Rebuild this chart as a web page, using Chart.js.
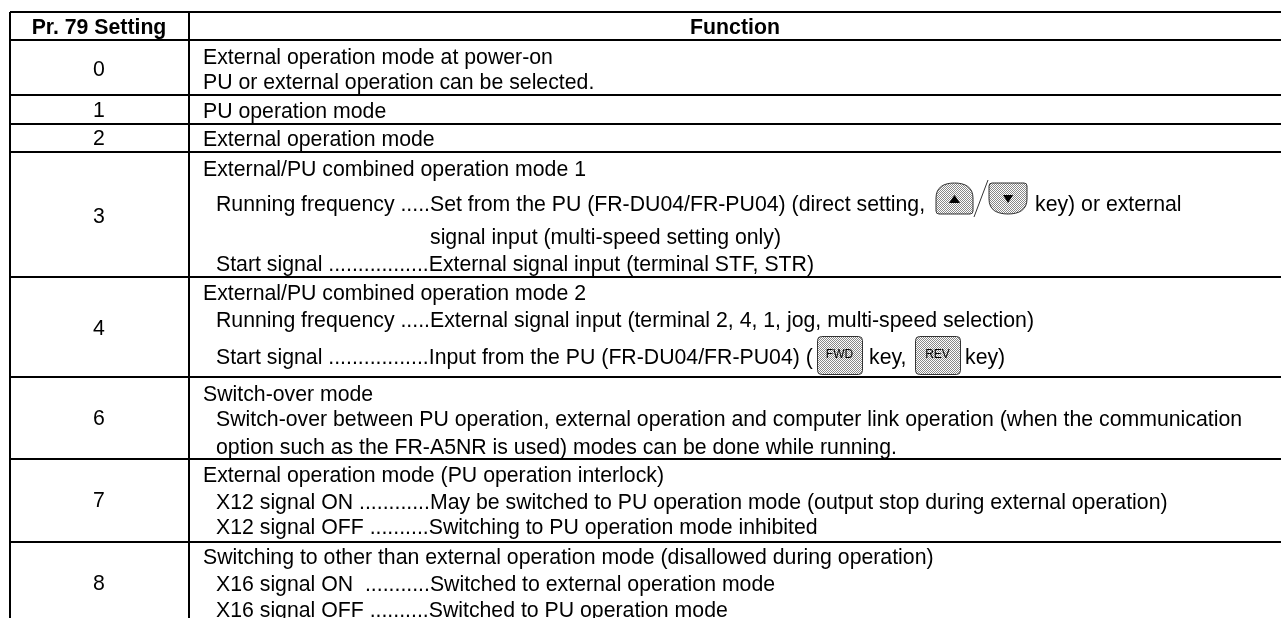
<!DOCTYPE html>
<html>
<head>
<meta charset="utf-8">
<style>
html, body { margin: 0; padding: 0; background: #fff; overflow: hidden; }
#wrap { position: relative; width: 1281px; height: 618px; }
</style>
<script src="https://cdn.jsdelivr.net/npm/chart.js@4.4.0/dist/chart.umd.min.js"></script>
</head>
<body>
<div id="wrap"><canvas id="table"></canvas></div>
<script>
// Table content
const headers = ['Pr. 79 Setting', 'Function'];
const settings = ['0', '1', '2', '3', '4', '6', '7', '8'];
const functionLines = [
    'External operation mode at power-on',
    'PU or external operation can be selected.',
    'PU operation mode',
    'External operation mode',
    'External/PU combined operation mode 1',
    'Running frequency .....Set from the PU (FR-DU04/FR-PU04) (direct setting,',
    'key) or external',
    'signal input (multi-speed setting only)',
    'Start signal .................External signal input (terminal STF, STR)',
    'External/PU combined operation mode 2',
    'Running frequency .....External signal input (terminal 2, 4, 1, jog, multi-speed selection)',
    'Start signal .................Input from the PU (FR-DU04/FR-PU04) (',
    'key,',
    'key)',
    'Switch-over mode',
    'Switch-over between PU operation, external operation and computer link operation (when the communication',
    'option such as the FR-A5NR is used) modes can be done while running.',
    'External operation mode (PU operation interlock)',
    'X12 signal ON ............May be switched to PU operation mode (output stop during external operation)',
    'X12 signal OFF ..........Switching to PU operation mode inhibited',
    'Switching to other than external operation mode (disallowed during operation)',
    'X16 signal ON  ...........Switched to external operation mode',
    'X16 signal OFF ..........Switched to PU operation mode'
];
const keyLabels = ['FWD', 'REV'];

// Axis values: the scales run in page units so the rules land where the table has them
const columnEdges = [10, 188.5];
const rowEdges = [12, 40, 95, 124, 152, 277, 377, 459, 542];
const headerX = [99, 735];
const headerY = [34, 34];
const settingX = [99, 99, 99, 99, 99, 99, 99, 99];
const settingY = [76, 117, 145, 223, 335, 425, 507, 590];
const lineX = [203, 203, 203, 203, 203, 216, 1035, 430, 216, 203, 216, 216, 869, 965, 203, 216, 216, 203, 216, 216, 203, 216, 216];
const lineY = [64, 89, 118, 146, 176, 211, 211, 244, 271, 300, 327, 364, 364, 364, 401, 426, 454, 482, 509, 534, 564, 591, 617];
const keyLeft = [817, 915];

const fontFamily = '"Liberation Sans", Arial, sans-serif';
const textSize = 21.28;

function dotPattern(ctx) {
    const c = document.createElement('canvas');
    c.width = 2; c.height = 2;
    const p = c.getContext('2d');
    p.fillStyle = '#fff';
    p.fillRect(0, 0, 2, 2);
    p.fillStyle = '#888';
    p.fillRect(0, 0, 1, 1);
    p.fillRect(1, 1, 1, 1);
    return ctx.createPattern(c, 'repeat');
}

function fillKey(ctx) {
    ctx.fillStyle = dotPattern(ctx);
    ctx.fill();
    ctx.strokeStyle = '#333';
    ctx.lineWidth = 1;
    ctx.stroke();
}

function triangle(ctx, x1, x2, yBase, yTip) {
    ctx.beginPath();
    ctx.moveTo(x1, yBase);
    ctx.lineTo(x2, yBase);
    ctx.lineTo((x1 + x2) / 2, yTip);
    ctx.closePath();
    ctx.fillStyle = '#000';
    ctx.fill();
}

// The key symbols printed on the inverter panel
function drawUpKey(ctx) {
    const l = 936, r = 973, t = 183, b = 214;
    ctx.beginPath();
    ctx.moveTo(l, b - 3);
    ctx.lineTo(l, t + 15);
    ctx.bezierCurveTo(l, t + 4, l + 8, t, (l + r) / 2, t);
    ctx.bezierCurveTo(r - 8, t, r, t + 4, r, t + 15);
    ctx.lineTo(r, b - 3);
    ctx.quadraticCurveTo(r, b, r - 3, b);
    ctx.lineTo(l + 3, b);
    ctx.quadraticCurveTo(l, b, l, b - 3);
    ctx.closePath();
    fillKey(ctx);
    triangle(ctx, 949, 960, 203, 195);
}

function drawDownKey(ctx) {
    const l = 989, r = 1027, t = 183, b = 214;
    ctx.beginPath();
    ctx.moveTo(l + 3, t);
    ctx.lineTo(r - 3, t);
    ctx.quadraticCurveTo(r, t, r, t + 3);
    ctx.lineTo(r, b - 15);
    ctx.bezierCurveTo(r, b - 4, r - 8, b, (l + r) / 2, b);
    ctx.bezierCurveTo(l + 8, b, l, b - 4, l, b - 15);
    ctx.lineTo(l, t + 3);
    ctx.quadraticCurveTo(l, t, l + 3, t);
    ctx.closePath();
    fillKey(ctx);
    triangle(ctx, 1003, 1013, 195, 203);
    // slash between the two keys
    ctx.beginPath();
    ctx.moveTo(974, 217);
    ctx.lineTo(988, 180);
    ctx.strokeStyle = '#333';
    ctx.lineWidth = 1;
    ctx.stroke();
}

function drawSmallKey(ctx, left, label) {
    const top = 336, w = 45, h = 38;
    ctx.beginPath();
    ctx.roundRect(left + 0.5, top + 0.5, w, h, 4);
    fillKey(ctx);
    ctx.font = '12px ' + fontFamily;
    ctx.fillStyle = '#000';
    ctx.textAlign = 'center';
    ctx.fillText(label, left + w / 2, top + 22);
}

// Draws the text of each dataset at the point the scales gave it
const tableText = {
    id: 'tableText',
    afterDatasetsDraw(chart) {
        const { ctx } = chart;
        ctx.save();
        ctx.textBaseline = 'alphabetic';
        chart.data.datasets.forEach((ds, i) => {
            const meta = chart.getDatasetMeta(i);
            ctx.font = (ds.textBold ? 'bold ' : '') + textSize + 'px ' + fontFamily;
            ctx.textAlign = ds.textAlign;
            ctx.fillStyle = '#000';
            meta.data.forEach((pt, j) => ctx.fillText(ds.labels[j], pt.x, pt.y));
        });
        drawUpKey(ctx);
        drawDownKey(ctx);
        keyLabels.forEach((label, i) => drawSmallKey(ctx, keyLeft[i], label));
        ctx.restore();
    }
};

const toPoints = (xs, ys) => xs.map((x, i) => ({ x, y: ys[i] }));

new Chart(document.getElementById('table'), {
    type: 'scatter',
    data: {
        datasets: [
            { labels: headers, textBold: true, textAlign: 'center', data: toPoints(headerX, headerY), pointRadius: 0 },
            { labels: settings, textAlign: 'center', data: toPoints(settingX, settingY), pointRadius: 0 },
            { labels: functionLines, textAlign: 'left', data: toPoints(lineX, lineY), pointRadius: 0 }
        ]
    },
    options: {
        responsive: true,
        maintainAspectRatio: false,
        animation: false,
        events: [],
        layout: { padding: { left: 10, top: 12, right: 0, bottom: 0 } },
        plugins: { legend: { display: false }, tooltip: { enabled: false } },
        scales: {
            x: {
                type: 'linear', min: 10, max: 1281,
                afterBuildTicks: axis => { axis.ticks = columnEdges.map(value => ({ value })); },
                ticks: { display: false },
                border: { display: false },
                grid: { color: '#000', lineWidth: 2, drawTicks: false }
            },
            y: {
                type: 'linear', min: 12, max: 618, reverse: true,
                afterBuildTicks: axis => { axis.ticks = rowEdges.map(value => ({ value })); },
                ticks: { display: false },
                border: { display: false },
                grid: { color: '#000', lineWidth: 2, drawTicks: false }
            }
        }
    },
    plugins: [tableText]
});
</script>
</body>
</html>
